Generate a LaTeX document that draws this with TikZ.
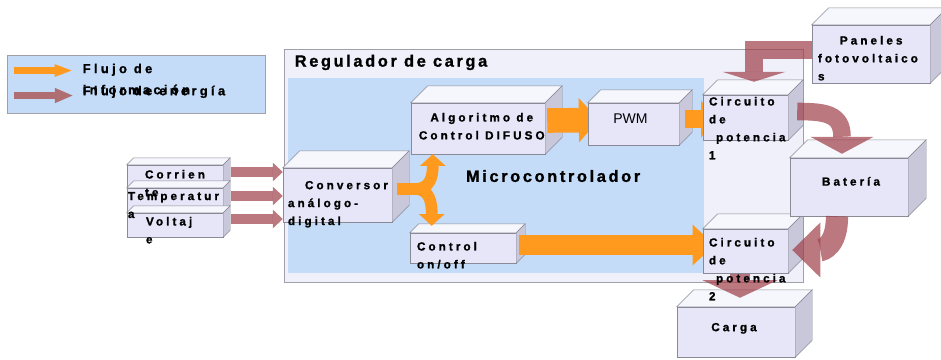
\documentclass[tikz,border=0pt]{standalone}
\usepackage{fontspec}
\setmainfont{Liberation Sans}
\newfontfamily\spacedfont{Liberation Sans}[LetterSpace=26, UprightFont=*-Bold, FakeBold=1.2]
\newfontfamily\titlefont{Liberation Sans}[LetterSpace=16, UprightFont=*-Bold, FakeBold=1.2]
\usetikzlibrary{fit,arrows.meta}

\definecolor{blueback}{HTML}{C4DCF8}
\definecolor{regback}{HTML}{F0F0FA}
\definecolor{framegray}{HTML}{A0A0A8}
\definecolor{cubefront}{HTML}{E6E6F8}
\definecolor{cubetop}{HTML}{F6F6FD}
\definecolor{cubeside}{HTML}{C8C8DA}
\definecolor{cubeedge}{HTML}{8A8A96}
\definecolor{flowinfo}{HTML}{FF9A1E}
\definecolor{flowenergy}{HTML}{9E3E48}
\definecolor{legendenergy}{HTML}{AE6E72}

\tikzset{
  region/.style={inner sep=0pt, draw=framegray, line width=0.8pt},
  boxtext/.style={inner sep=0pt, anchor=north west, align=left,
    font=\fontsize{10}{15.3}\spacedfont},
  legendtext/.style={boxtext, font=\fontsize{11}{18}\spacedfont},
  titletext/.style={inner sep=0pt, anchor=north west,
    font=\fontsize{14}{16}\titlefont},
  info/.style args={#1/#2/#3}{draw=flowinfo, line width=#1,
    -{Triangle[width=#2,length=#3,line width=0pt]}},
  energy/.style args={#1/#2/#3}{draw=flowenergy, opacity=0.7, line width=#1,
    -{Triangle[width=#2,length=#3,line width=0pt]}},
}

% front, top and side of a box
\newcommand\drawcube[2]{%
  \filldraw[draw=cubeedge, fill=cubefront] (#1.north west) rectangle (#1.south east);
  \filldraw[draw=cubeedge, fill=cubetop] (#1.north west) -- ++(#2,-#2)
    -- ([shift={(#2,-#2)}]#1.north east) -- (#1.north east) -- cycle;
  \filldraw[draw=cubeedge, fill=cubeside] (#1.north east) -- ++(#2,-#2)
    -- ([shift={(#2,-#2)}]#1.south east) -- (#1.south east) -- cycle;}

\begin{document}
\begin{tikzpicture}[x=0.03cm, y=-0.03cm]
\useasboundingbox (0,0) rectangle (941,360);

% Regions
\node[region, fill=blueback, fit={(7,55) (265,113)}] (legend) {};
\node[region, fill=regback, fit={(284,49) (803,282)}] (reg) {};
\node[inner sep=0pt, fill=blueback, fit={(288,78) (704,273)}] (micro) {};
\node[titletext] (regtxt) at ([shift={(11,6)}]reg.north west) {Regulador de carga};
\node[titletext] (microtxt) at ([shift={(178,92)}]micro.north west) {Microcontrolador};

% Legend
\coordinate (la1) at ([shift={(7,16)}]legend.north west);
\coordinate (la2) at ([shift={(65,16)}]legend.north west);
\coordinate (lb1) at ([shift={(7,41)}]legend.north west);
\coordinate (lb2) at ([shift={(66,41)}]legend.north west);
\draw[info=6pt/11pt/14.5pt] (la1) -- (la2);
\draw[draw=legendenergy, line width=6.5pt, -{Triangle[width=13pt,length=15pt,line width=0pt]}] (lb1) -- (lb2);
\node[legendtext] (infotxt) at ([shift={(76,9)}]legend.north west) {Flujo de\\información};
\node[legendtext] (energytxt) at ([shift={(76,31)}]legend.north west) {Flujo de energía};

% Box placeholders
\foreach \nm/\xa/\ya/\xb/\yb in {corr/127/165/223/187, temp/127/188/223/212,
  volt/127/213/223/237, conv/283/168/392/222, algo/411/103/545/154,
  pwm/588/103/679/145, ctrl/410/233/516/263, circa/703/95/788/140,
  circb/703/229/788/273, panel/812/25/930/83, bat/790/158/908/216,
  carga/677/307/795/357}
  \node[inner sep=0pt, fit={(\xa,\ya) (\xb,\yb)}] (\nm) {};

% Sensors
\foreach \nm in {corr, temp, volt} {\drawcube{\nm}{7}}
\foreach \nm/\dy in {corr/-4, temp/-4, volt/-6}
  \draw[energy=7.7pt/16pt/8.5pt] ([shift={(8,\dy)}]\nm.east) -- ([shift={(0,\dy)}]\nm.east -| conv.west);

\drawcube{conv}{17}
\drawcube{algo}{17}
\drawcube{ctrl}{9}

% Information flow
\draw[info=10pt/22pt/10pt] ([shift={(5,-6)}]conv.east) -- ++(18,0)
  .. controls +(15,0) and +(0,22) .. ([shift={(22,0)}]algo.south west);
\draw[info=10pt/22pt/10pt] ([shift={(5,-6)}]conv.east) -- ++(18,0)
  .. controls +(15,0) and +(0,-22) .. ([shift={(22,-7)}]ctrl.north west);
\draw[info=21pt/38pt/17pt] ([shift={(2,-8)}]algo.east) -- ([shift={(11,-4)}]pwm.west);
\draw[info=17pt/35pt/19pt] ([shift={(3,-3)}]ctrl.east) -- ([shift={(12,-6)}]circb.west);
\drawcube{pwm}{13}
\draw[info=15pt/32pt/10pt] ([shift={(6,-5)}]pwm.east) -- ([shift={(10,1.5)}]circa.west);

\drawcube{carga}{17}
\draw[energy=17pt/64pt/15pt] ([shift={(-5.5,-10)}]circb.south) -- ([shift={(4,-9)}]carga.north);
\drawcube{circa}{15}
\drawcube{circb}{15}
\drawcube{panel}{17}
\drawcube{bat}{18}

% Energy flow
\draw[energy=16pt/54pt/8.5pt, line join=miter] ([shift={(0,-4)}]panel.west)
  -| ([shift={(8.5,-13)}]circa.north);
\draw[energy=15pt/54pt/14.5pt] ([shift={(9,-6)}]circa.east)
  .. controls +(28,0) and +(0,-40) .. ([shift={(-7,-4)}]bat.north);
\draw[energy=19pt/47pt/24pt] ([shift={(-12,0)}]bat.south)
  .. controls +(0,30) and +(30,0) .. ([shift={(4,-1)}]circb.east);

% Texts
\node[boxtext] (corrtxt) at ([shift={(18,5)}]corr.north west) {Corrien\\te};
\node[boxtext] (temptxt) at ([shift={(1,4)}]temp.north west) {Temperatur\\a};
\node[boxtext] (volttxt) at ([shift={(19,4)}]volt.north west) {Voltaj\\e};
\node[boxtext] (convtxt) at ([shift={(5,13)}]conv.north west) {\hspace*{14.5pt}Conversor\\análogo-\\digital};
\node[boxtext, anchor=north, align=center] (algotxt) at ([shift={(71,10)}]algo.north west) {Algoritmo de\\Control DIFUSO};
\node[inner sep=0pt, font=\fontsize{12}{14}\selectfont] (pwmtxt) at ([shift={(-3,-5)}]pwm.center) {PWM};
\node[boxtext] (ctrltxt) at ([shift={(7,9)}]ctrl.north west) {Control\\on/off};
\node[boxtext] (circatxt) at ([shift={(6,2)}]circa.north west) {Circuito\\de\\\hspace*{6pt}potencia\\1};
\node[boxtext] (circbtxt) at ([shift={(6,9)}]circb.north west) {Circuito\\de\\\hspace*{6pt}potencia\\2};
\node[boxtext] (paneltxt) at ([shift={(6,11)}]panel.north west) {\hspace*{18.7pt}Paneles\\fotovoltaico\\s};
\node[boxtext, anchor=north] (battxt) at ([shift={(2,19)}]bat.north) {Batería};
\node[boxtext, anchor=north] (cargatxt) at ([shift={(-2,16)}]carga.north) {Carga};

\end{tikzpicture}
\end{document}
